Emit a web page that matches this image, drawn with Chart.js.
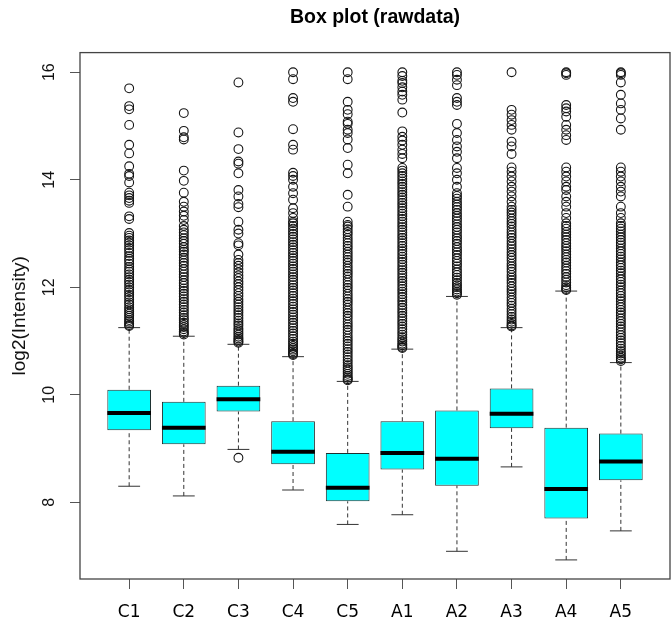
<!DOCTYPE html>
<html>
<head>
<meta charset="utf-8">
<script src="https://cdn.jsdelivr.net/npm/chart.js@4/dist/chart.umd.min.js"></script>
<style>
  html, body { margin: 0; padding: 0; background: #ffffff; }
  #wrap { width: 672px; height: 619px; }
</style>
</head>
<body>
<div id="wrap"><canvas id="c" width="672" height="619"></canvas></div>
<script>
// ---------- data ----------
const categories   = ['C1', 'C2', 'C3', 'C4', 'C5', 'A1', 'A2', 'A3', 'A4', 'A5'];
const lowerWhisker = [8.30, 8.12, 8.985, 8.23, 7.59, 7.77, 7.09, 8.66, 6.93, 7.47];
const q1           = [9.34, 9.08, 9.69, 8.71, 8.02, 8.61, 8.31, 9.38, 7.70, 8.41];
const median       = [9.66, 9.39, 9.92, 8.94, 8.27, 8.92, 8.81, 9.65, 8.25, 8.76];
const q3           = [10.095, 9.87, 10.17, 9.51, 8.92, 9.51, 9.71, 10.12, 9.39, 9.28];
const upperWhisker = [11.25, 11.09, 10.94, 10.71, 10.25, 10.85, 11.83, 11.25, 11.93, 10.60];
const yTicks       = [8, 10, 12, 14, 16];

const outliersC1 = [15.70, 15.37, 15.31, 15.02, 14.65, 14.49, 14.25, 14.11, 14.07, 13.95, 13.76, 13.71, 13.66, 13.61, 13.57, 13.32, 13.27,
  13.01, 12.96, 12.92, 12.87, 12.83, 12.78, 12.73, 12.69, 12.64, 12.58, 12.53, 12.49, 12.44, 12.38, 12.33, 12.29, 12.24, 12.19, 12.14, 12.10,
  12.05, 12.00, 11.95, 11.91, 11.86, 11.82, 11.77, 11.72, 11.68, 11.63, 11.59, 11.55, 11.51, 11.47, 11.43, 11.39, 11.36, 11.33, 11.30, 11.28];
const outliersC2 = [15.24, 14.91, 14.79, 14.75, 14.17, 13.98, 13.76, 13.59, 13.50, 13.41, 13.33, 13.25, 13.14,
  13.07, 13.02, 12.97, 12.91, 12.86, 12.81, 12.75, 12.70, 12.66, 12.61, 12.55, 12.50, 12.45, 12.40, 12.34, 12.29, 12.24, 12.19, 12.13, 12.08,
  12.03, 11.98, 11.93, 11.88, 11.83, 11.78, 11.73, 11.68, 11.63, 11.58, 11.53, 11.48, 11.43, 11.39, 11.34, 11.30, 11.26, 11.22, 11.18, 11.15, 11.12];
const outliersC3 = [15.81, 14.88, 14.57, 14.34, 14.30, 14.12, 13.81, 13.69, 13.55, 13.49, 13.22, 13.07, 13.00, 12.82, 12.78, 12.61,
  12.51, 12.45, 12.40, 12.34, 12.28, 12.22, 12.17, 12.11, 12.06, 12.00, 11.95, 11.89, 11.84, 11.78, 11.73, 11.68, 11.63, 11.58, 11.53, 11.48,
  11.43, 11.38, 11.33, 11.29, 11.24, 11.20, 11.16, 11.12, 11.08, 11.05, 11.02, 10.99, 10.97, 8.83];
const outliersC4 = [16.00, 15.87, 15.52, 15.45, 14.94, 14.65, 14.56, 14.13, 14.07, 14.00, 13.87, 13.75, 13.63, 13.47, 13.38, 13.29, 13.22,
  13.19, 13.14, 13.09, 13.04, 12.99, 12.94, 12.89, 12.84, 12.79, 12.74, 12.69, 12.64, 12.59, 12.54, 12.49, 12.44, 12.39, 12.34, 12.29, 12.24,
  12.19, 12.14, 12.09, 12.04, 11.99, 11.94, 11.89, 11.84, 11.79, 11.74, 11.69, 11.64, 11.59, 11.54, 11.49, 11.44, 11.39, 11.34, 11.29, 11.24,
  11.19, 11.14, 11.09, 11.04, 10.99, 10.95, 10.91, 10.87, 10.84, 10.81, 10.78, 10.76, 10.74];
const outliersC5 = [16.00, 15.87, 15.45, 15.30, 15.22, 15.08, 15.04, 14.93, 14.87, 14.75, 14.59, 14.28, 14.12, 13.72, 13.50, 13.22, 13.16,
  13.13, 13.08, 13.03, 12.98, 12.92, 12.87, 12.82, 12.77, 12.72, 12.66, 12.61, 12.56, 12.51, 12.46, 12.40, 12.35, 12.30, 12.25, 12.20, 12.14,
  12.09, 12.04, 11.99, 11.94, 11.88, 11.83, 11.78, 11.73, 11.68, 11.62, 11.57, 11.52, 11.47, 11.42, 11.36, 11.31, 11.26, 11.21, 11.16, 11.10,
  11.05, 11.00, 10.95, 10.90, 10.85, 10.80, 10.75, 10.70, 10.65, 10.60, 10.55, 10.51, 10.47, 10.43, 10.39, 10.35, 10.32, 10.29, 10.27];
const outliersA1 = [16.00, 15.93, 15.84, 15.80, 15.72, 15.64, 15.58, 15.49, 15.25, 14.90, 14.80, 14.73, 14.65, 14.56, 14.48, 14.40,
  14.22, 14.17, 14.12, 14.07, 14.02, 13.97, 13.92, 13.87, 13.82, 13.77, 13.72, 13.67, 13.62, 13.57, 13.52, 13.47, 13.42, 13.37, 13.32, 13.27,
  13.22, 13.17, 13.12, 13.07, 13.02, 12.97, 12.92, 12.87, 12.82, 12.77, 12.72, 12.67, 12.62, 12.57, 12.52, 12.47, 12.42, 12.37, 12.32, 12.27,
  12.22, 12.17, 12.12, 12.07, 12.02, 11.97, 11.92, 11.87, 11.82, 11.77, 11.72, 11.67, 11.62, 11.57, 11.52, 11.47, 11.42, 11.37, 11.32, 11.27,
  11.22, 11.17, 11.12, 11.07, 11.03, 10.99, 10.95, 10.92, 10.89, 10.87];
const outliersA2 = [16.00, 15.95, 15.86, 15.76, 15.52, 15.45, 15.39, 15.04, 14.87, 14.74, 14.62, 14.52, 14.40, 14.22, 14.12, 14.00, 13.87,
  13.75, 13.70, 13.65, 13.59, 13.54, 13.49, 13.44, 13.38, 13.33, 13.28, 13.23, 13.17, 13.12, 13.07, 13.02, 12.96, 12.91, 12.86, 12.81, 12.75,
  12.70, 12.65, 12.60, 12.54, 12.49, 12.44, 12.39, 12.33, 12.28, 12.23, 12.18, 12.13, 12.08, 12.04, 12.00, 11.96, 11.92, 11.89, 11.86];
const outliersA3 = [16.00, 15.30, 15.21, 15.11, 15.02, 14.93, 14.71, 14.62, 14.48, 14.23, 14.15, 14.06, 13.97, 13.87, 13.78, 13.69, 13.59, 13.50,
  13.44, 13.39, 13.34, 13.28, 13.23, 13.18, 13.13, 13.07, 13.02, 12.97, 12.92, 12.86, 12.81, 12.76, 12.71, 12.65, 12.60, 12.55, 12.50, 12.44,
  12.39, 12.34, 12.29, 12.23, 12.18, 12.13, 12.08, 12.02, 11.97, 11.92, 11.87, 11.81, 11.76, 11.71, 11.66, 11.60, 11.55, 11.50, 11.45, 11.40,
  11.36, 11.32, 11.29, 11.27];
const outliersA4 = [16.00, 15.98, 15.95, 15.39, 15.33, 15.27, 15.17, 15.02, 14.93, 14.83, 14.74, 14.23, 14.15, 14.06, 13.97, 13.87, 13.81,
  13.69, 13.59, 13.50, 13.38, 13.29,
  13.19, 13.14, 13.09, 13.03, 12.98, 12.93, 12.88, 12.82, 12.77, 12.72, 12.67, 12.61, 12.56, 12.51, 12.46, 12.40, 12.35, 12.30, 12.25, 12.19,
  12.14, 12.09, 12.04, 12.00, 11.97, 11.95];
const outliersA5 = [16.00, 15.98, 15.95, 15.81, 15.58, 15.42, 15.30, 15.14, 14.93, 14.23, 14.15, 14.06, 13.97, 13.87, 13.78, 13.69, 13.50,
  13.38, 13.29,
  13.19, 13.14, 13.09, 13.04, 12.98, 12.93, 12.88, 12.83, 12.78, 12.72, 12.67, 12.62, 12.57, 12.52, 12.46, 12.41, 12.36, 12.31, 12.26, 12.20,
  12.15, 12.10, 12.05, 12.00, 11.94, 11.89, 11.84, 11.79, 11.74, 11.68, 11.63, 11.58, 11.53, 11.48, 11.42, 11.37, 11.32, 11.27, 11.22, 11.16,
  11.11, 11.06, 11.01, 10.96, 10.91, 10.86, 10.81, 10.77, 10.73, 10.69, 10.66, 10.63];
const outliers = [outliersC1, outliersC2, outliersC3, outliersC4, outliersC5,
                  outliersA1, outliersA2, outliersA3, outliersA4, outliersA5];

// ---------- build library datasets ----------
const BOX_HALF = 0.4;     // half box width in category units (R boxwex 0.8)
const STAPLE_HALF = 0.2;  // half whisker-cap width

const boxData = categories.map((c, i) => ({ x: i + 1, y: [q1[i], q3[i]] }));
const whiskerData = [], capData = [], medianData = [], outlierData = [];
categories.forEach((c, i) => {
  const x = i + 1;
  whiskerData.push({ x, y: lowerWhisker[i] }, { x, y: q1[i] }, { x, y: null },
                   { x, y: q3[i] }, { x, y: upperWhisker[i] }, { x, y: null });
  capData.push({ x: x - STAPLE_HALF, y: lowerWhisker[i] }, { x: x + STAPLE_HALF, y: lowerWhisker[i] }, { x, y: null },
               { x: x - STAPLE_HALF, y: upperWhisker[i] }, { x: x + STAPLE_HALF, y: upperWhisker[i] }, { x, y: null });
  medianData.push({ x: x - BOX_HALF, y: median[i] }, { x: x + BOX_HALF, y: median[i] }, { x, y: null });
  outliers[i].forEach(v => outlierData.push({ x, y: v }));
});

const frame = {
  id: 'frame',
  afterDatasetsDraw(chart) {
    const { ctx, chartArea: a } = chart;
    ctx.save();
    ctx.strokeStyle = '#444';
    ctx.lineWidth = 1.3;
    ctx.strokeRect(a.left, a.top, a.right - a.left, a.bottom - a.top);
    ctx.restore();
  }
};
const rotatedYTicks = {
  id: 'rotatedYTicks',
  afterDraw(chart) {
    const { ctx } = chart;
    const ys = chart.scales.y;
    ctx.save();
    ctx.fillStyle = '#111';
    ctx.font = '16px "Liberation Sans", Arial, sans-serif';
    ctx.textAlign = 'center';
    ctx.textBaseline = 'middle';
    ys.ticks.forEach(t => {
      ctx.save();
      ctx.translate(50, ys.getPixelForValue(t.value));
      ctx.rotate(-Math.PI / 2);
      ctx.fillText(String(t.value), 0, 0);
      ctx.restore();
    });
    ctx.restore();
  }
};

new Chart(document.getElementById('c'), {
  type: 'bar',
  data: {
    datasets: [
      { type: 'bar', data: boxData, backgroundColor: '#00FFFF', borderColor: '#1f2f2f', borderWidth: 1,
        borderSkipped: false, barPercentage: 0.8, categoryPercentage: 1.0, order: 3 },
      { type: 'line', data: whiskerData, borderColor: '#333', borderWidth: 1, borderDash: [4, 3],
        pointRadius: 0, fill: false, tension: 0, spanGaps: false, order: 2 },
      { type: 'line', data: capData, borderColor: '#333', borderWidth: 1,
        pointRadius: 0, fill: false, tension: 0, spanGaps: false, order: 2 },
      { type: 'scatter', data: outlierData, pointStyle: 'circle', pointRadius: 4.4,
        pointBorderColor: '#151515', pointBackgroundColor: 'rgba(0,0,0,0)', pointBorderWidth: 1.1, order: 1 },
      { type: 'line', data: medianData, borderColor: '#000', borderWidth: 4, borderCapStyle: 'butt',
        pointRadius: 0, fill: false, tension: 0, spanGaps: false, order: 0 }
    ]
  },
  options: {
    responsive: false,
    animation: false,
    devicePixelRatio: 1,
    layout: { autoPadding: false, padding: { left: 0, right: 2, top: 0, bottom: 0 } },
    plugins: {
      legend: { display: false },
      tooltip: { enabled: false },
      title: {
        display: true, text: 'Box plot (rawdata)', fullSize: false, color: '#000',
        font: { family: '"Liberation Sans", Arial, sans-serif', size: 19.5, weight: 'bold', lineHeight: 1.2 },
        padding: { top: 6, bottom: 23.2 }
      }
    },
    scales: {
      x: {
        type: 'linear', min: 0.1, max: 10.9, offset: false,
        afterBuildTicks: s => { s.ticks = categories.map((c, i) => ({ value: i + 1 })); },
        afterFit: s => { s.height = 40; s.paddingLeft = 0; s.paddingRight = 0; },
        ticks: {
          autoSkip: false, maxRotation: 0, minRotation: 0, padding: 13.5, color: '#000',
          font: { family: '"DejaVu Sans", Verdana, sans-serif', size: 17 },
          callback: v => categories[Math.round(v) - 1] || ''
        },
        grid: { offset: false, drawOnChartArea: false, drawTicks: true, tickLength: 10, color: '#555' },
        border: { display: false }
      },
      y: {
        type: 'linear', min: 6.575, max: 16.365,
        afterBuildTicks: s => { s.ticks = yTicks.map(v => ({ value: v })); },
        afterFit: s => { s.width = 80; },
        ticks: { display: false },
        grid: { drawOnChartArea: false, drawTicks: true, tickLength: 10, color: '#555' },
        border: { display: false },
        title: {
          display: true, text: 'log2(Intensity)', color: '#111',
          font: { family: '"Liberation Sans", Arial, sans-serif', size: 19, lineHeight: 1.2 },
          padding: { top: 8.6, bottom: 0 }
        }
      }
    }
  },
  plugins: [frame, rotatedYTicks]
});
</script>
</body>
</html>
